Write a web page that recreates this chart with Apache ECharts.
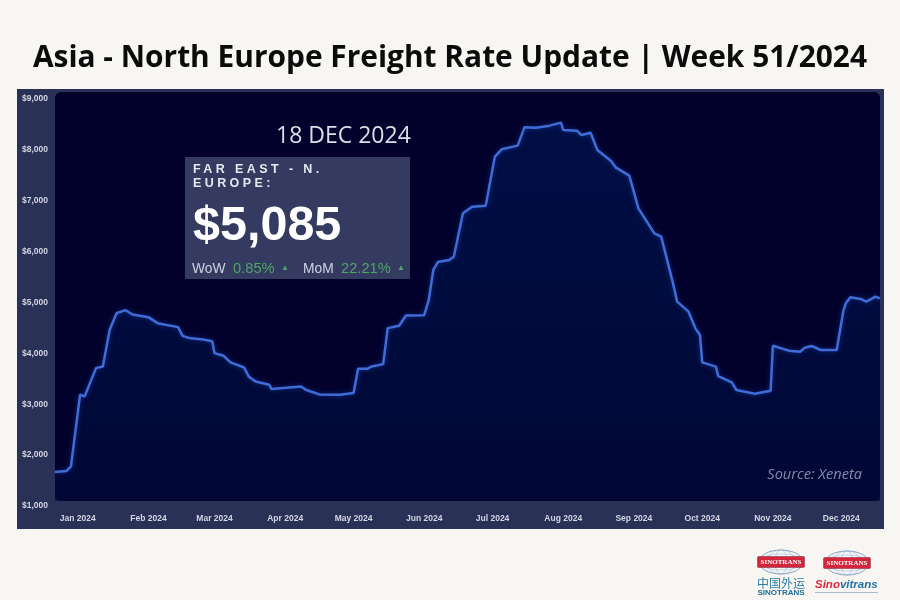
<!DOCTYPE html>
<html>
<head>
<meta charset="utf-8">
<title>Asia - North Europe Freight Rate Update</title>
<script src="https://cdn.jsdelivr.net/npm/echarts@6/dist/echarts.min.js"></script>
<style>
    html, body { margin: 0; padding: 0; background: #f8f6f2; }
    #wrap { position: relative; width: 900px; height: 600px; }
    #chart { width: 900px; height: 600px; }
    /* canvas text has no letter spacing, so this one label sits on top */
    #route-label {
        position: absolute; left: 193px; top: 161.5px;
        font: bold 12.5px/14.5px "Liberation Sans", sans-serif;
        letter-spacing: 3.4px; color: #e6e8ef;
    }
</style>
</head>
<body>
<div id="wrap">
    <div id="chart"></div>
    <div id="route-label">FAR EAST - N.<br>EUROPE:</div>
</div>
<script>
const rateDates = [
    "2023-12-22", "2023-12-27", "2023-12-29", "2024-01-02", "2024-01-04", "2024-01-09", "2024-01-12",
    "2024-01-15", "2024-01-18", "2024-01-22", "2024-01-25", "2024-02-01", "2024-02-05", "2024-02-14",
    "2024-02-16", "2024-02-19", "2024-02-24", "2024-02-29", "2024-03-01", "2024-03-05", "2024-03-08",
    "2024-03-14", "2024-03-16", "2024-03-19", "2024-03-25", "2024-03-26", "2024-04-08", "2024-04-10",
    "2024-04-16", "2024-04-25", "2024-05-01", "2024-05-03", "2024-05-07", "2024-05-09", "2024-05-14",
    "2024-05-16", "2024-05-21", "2024-05-24", "2024-06-01", "2024-06-03", "2024-06-05", "2024-06-07",
    "2024-06-12", "2024-06-14", "2024-06-18", "2024-06-22", "2024-06-28", "2024-07-02", "2024-07-05",
    "2024-07-12", "2024-07-15", "2024-07-20", "2024-07-26", "2024-07-31", "2024-08-01", "2024-08-07",
    "2024-08-09", "2024-08-13", "2024-08-16", "2024-08-22", "2024-08-24", "2024-08-30", "2024-09-03",
    "2024-09-10", "2024-09-13", "2024-09-18", "2024-09-20", "2024-09-25", "2024-09-28", "2024-09-30",
    "2024-10-01", "2024-10-07", "2024-10-08", "2024-10-14", "2024-10-16", "2024-10-24", "2024-10-31",
    "2024-11-01", "2024-11-08", "2024-11-13", "2024-11-15", "2024-11-18", "2024-11-22", "2024-11-29",
    "2024-12-02", "2024-12-03", "2024-12-05", "2024-12-10", "2024-12-12", "2024-12-16", "2024-12-18"
];
const rateValues = [
    1668, 1687, 1779, 3187, 3154, 3710, 3743,
    4463, 4790, 4849, 4764, 4712, 4594, 4516,
    4345, 4300, 4280, 4240, 4005, 3952, 3822,
    3723, 3547, 3448, 3383, 3298, 3350, 3285,
    3193, 3187, 3219, 3697, 3697, 3743, 3789,
    4496, 4542, 4745, 4751, 5050, 5640, 5796,
    5835, 5901, 6753, 6884, 6904, 7867, 8011,
    8083, 8443, 8437, 8476, 8535, 8391, 8378,
    8293, 8338, 7998, 7781, 7657, 7493, 6851,
    6360, 6294, 5410, 5017, 4820, 4492, 4361,
    3824, 3739, 3555, 3431, 3280, 3208, 3267,
    4151, 4053, 4033, 4112, 4145, 4066, 4066,
    4852, 4983, 5102, 5062, 5016, 5115, 5082
];
const monthStarts = [
    "2024-01-01", "2024-02-01", "2024-03-01", "2024-04-01", "2024-05-01", "2024-06-01",
    "2024-07-01", "2024-08-01", "2024-09-01", "2024-10-01", "2024-11-01", "2024-12-01"
];
const monthLabels = [
    "Jan 2024", "Feb 2024", "Mar 2024", "Apr 2024", "May 2024", "Jun 2024",
    "Jul 2024", "Aug 2024", "Sep 2024", "Oct 2024", "Nov 2024", "Dec 2024"
];

const SANS = '"Liberation Sans", sans-serif';
const OPEN = '"Open Sans", sans-serif';
const toMs = (s) => Date.parse(s);
const monthTimes = monthStarts.map(toMs);

function txt(x, y, text, style) {
    return {
        type: "text", x: x, y: y, z: 10,
        style: Object.assign({ text: text, verticalAlign: "middle", fontFamily: SANS }, style),
    };
}

/* small globe + red banner used by both logos */
function logoBadge(cx, cy, label) {
    const thin = { fill: "none", stroke: "#9db0c8", lineWidth: 0.5 };
    return [
        { type: "ellipse", z: 5, shape: { cx: cx, cy: cy, rx: 22, ry: 12 }, style: { fill: "#f3f5f7", stroke: "#7f98b8", lineWidth: 0.9 } },
        { type: "ellipse", z: 5, shape: { cx: cx, cy: cy, rx: 14, ry: 12 }, style: thin },
        { type: "ellipse", z: 5, shape: { cx: cx, cy: cy, rx: 6, ry: 12 }, style: thin },
        { type: "ellipse", z: 5, shape: { cx: cx, cy: cy, rx: 22, ry: 8 }, style: thin },
        { type: "rect", z: 6, shape: { x: cx - 23.5, y: cy - 5.5, width: 47, height: 11, r: 1 }, style: { fill: "#d3263c", stroke: "#7c2a3a", lineWidth: 0.5 } },
        txt(cx, cy + 0.5, label, { fill: "#fff", fontSize: 7, fontWeight: "bold", fontFamily: '"Liberation Serif", serif', align: "center" }),
    ];
}

let myChart = echarts.init(document.querySelector("#chart"));
const option = {
    animation: false,
    backgroundColor: "#f8f6f2",
    title: {
        text: "Asia - North Europe Freight Rate Update | Week 51/2024",
        left: "center",
        top: 38,
        textStyle: { fontFamily: OPEN, fontWeight: "bold", fontSize: 29.9, color: "#0b0b0b" },
    },
    grid: { left: 55, right: 20, top: 99, height: 407 },
    // dates as plain timestamps: month labels sit on exact month starts
    xAxis: {
        type: "value",
        min: toMs("2023-12-22"),
        max: toMs("2024-12-18"),
        axisLine: { show: false },
        axisTick: { show: false },
        splitLine: { show: false },
        axisLabel: {
            customValues: monthTimes,
            hideOverlap: false,
            margin: 8,
            color: "#d3d6e4",
            fontSize: 8.5,
            fontWeight: "bold",
            fontFamily: SANS,
            formatter: (v) => monthLabels[monthTimes.indexOf(v)],
        },
    },
    yAxis: {
        type: "value",
        min: 1000,
        max: 9000,
        interval: 1000,
        axisLine: { show: false },
        axisTick: { show: false },
        splitLine: { show: false },
        axisLabel: {
            margin: 7,
            color: "#d3d6e4",
            fontSize: 8.5,
            fontWeight: "bold",
            fontFamily: SANS,
            formatter: (v) => "$" + v.toLocaleString("en-US"),
        },
    },
    graphic: [
        {
            type: "rect", z: -2,
            shape: { x: 17, y: 89, width: 867, height: 440 },
            style: { fill: "#2a3156" },
        },
        {
            type: "rect", z: -1,
            shape: { x: 55, y: 92, width: 825, height: 409, r: 6 },
            style: { fill: "#01012b" },
        },
        txt(276, 136, "18 DEC 2024", { fill: "#dcdee8", fontSize: 23, fontFamily: OPEN }),
        { type: "rect", z: 5, shape: { x: 185, y: 157, width: 225, height: 122 }, style: { fill: "#343a60" } },
        txt(193, 227, "$5,085", { fill: "#ffffff", fontSize: 48.5, fontWeight: "bold" }),
        txt(192, 269, "WoW", { fill: "#cfd2e2", fontSize: 13.8 }),
        txt(233, 269, "0.85%", { fill: "#4fa468", fontSize: 14.7 }),
        txt(281, 268, "▲", { fill: "#4fa468", fontSize: 8 }),
        txt(303, 269, "MoM", { fill: "#cfd2e2", fontSize: 13.8 }),
        txt(341, 269, "22.21%", { fill: "#4fa468", fontSize: 14.7 }),
        txt(397, 268, "▲", { fill: "#4fa468", fontSize: 8 }),
        txt(862, 475, "Source: Xeneta", { fill: "#858aa6", fontSize: 14.6, fontStyle: "italic", fontFamily: OPEN, align: "right" }),
    ]
        .concat(logoBadge(781, 562, "SINOTRANS"))
        .concat(logoBadge(847, 563, "SINOTRANS"))
        .concat([
            txt(781, 583, "中国外运", { fill: "#2b7ea6", fontSize: 12, fontFamily: '"Noto Sans CJK SC", sans-serif', align: "center" }),
            txt(781, 593, "SINOTRANS", { fill: "#1f6d94", fontSize: 8, fontWeight: "bold", align: "center" }),
            {
                type: "text", x: 815, y: 585, z: 10,
                style: {
                    text: "{a|Sino}{b|vitrans}",
                    verticalAlign: "middle",
                    rich: {
                        a: { fill: "#e0263c", fontSize: 11.5, fontWeight: "bold", fontStyle: "italic", fontFamily: SANS },
                        b: { fill: "#1f6fa3", fontSize: 11.5, fontWeight: "bold", fontStyle: "italic", fontFamily: SANS },
                    },
                },
            },
            { type: "rect", z: 5, shape: { x: 815, y: 592, width: 63, height: 1 }, style: { fill: "#a9bccb" } },
        ]),
    series: [
        {
            name: "Far East - N. Europe",
            type: "line",
            data: rateDates.map((d, i) => [toMs(d), rateValues[i]]),
            symbol: "none",
            smooth: false,
            lineStyle: { color: "#3f6cd6", width: 2.5, shadowColor: "rgba(50,100,230,0.45)", shadowBlur: 5 },
            areaStyle: {
                origin: 1098,
                color: new echarts.graphic.LinearGradient(0, 0, 0, 1, [
                    { offset: 0, color: "#011450" },
                    { offset: 1, color: "#000a3a" },
                ]),
            },
        },
    ],
};
myChart.setOption(option);
</script>
</body>
</html>
